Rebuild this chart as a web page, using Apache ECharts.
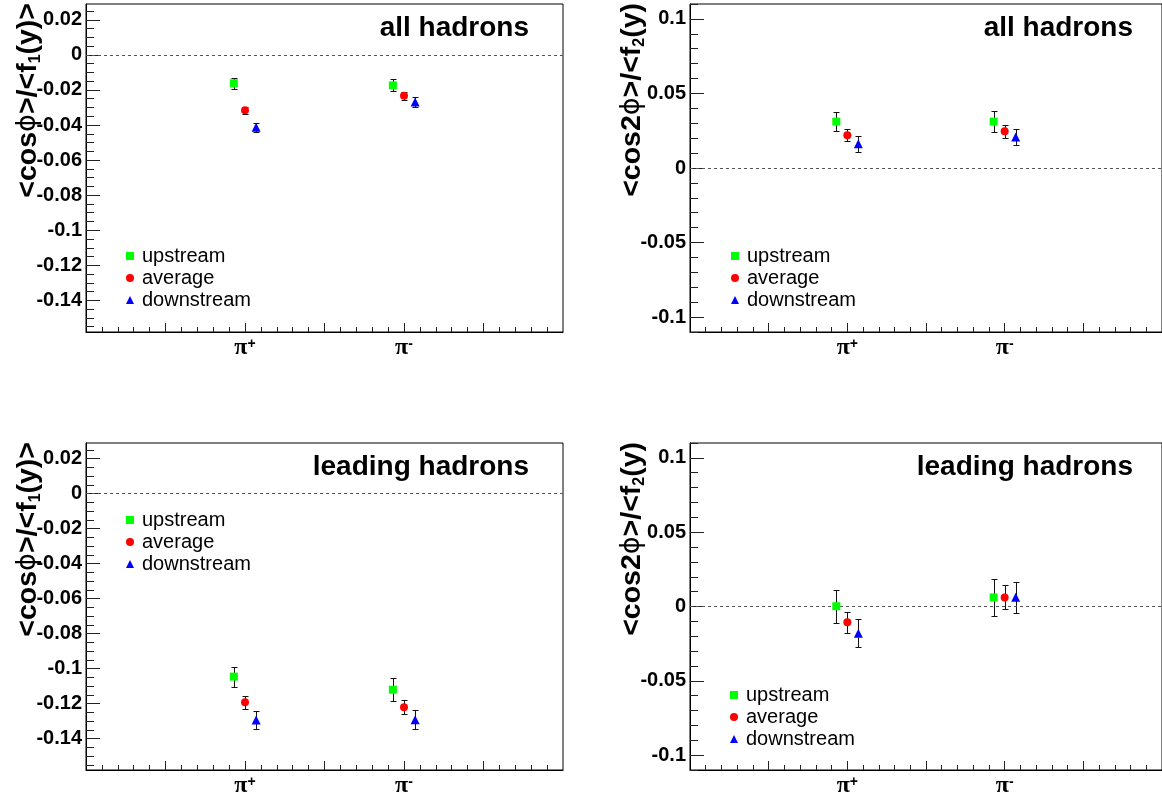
<!DOCTYPE html>
<html>
<head>
<meta charset="utf-8">
<title>cos phi and cos 2phi asymmetries</title>
<script src="https://cdn.jsdelivr.net/npm/echarts@6/dist/echarts.min.js"></script>
<style>
  html, body { margin: 0; padding: 0; background: #fff; }
  #chart { width: 1162px; height: 798px; }
</style>
</head>
<body>
<div id="chart"></div>
<script>
// Hadron charges shown along each x axis (positions 2 and 4 on a 0..6 scale)
const mesonLabels = ['π+', 'π-'];
const mesonPositions = [2, 4];
const seriesNames = ['upstream', 'average', 'downstream'];
const panelTitles = ['all hadrons', 'all hadrons', 'leading hadrons', 'leading hadrons'];

// Tick labels
const yTicksCosPhi = [0.02, 0, -0.02, -0.04, -0.06, -0.08, -0.1, -0.12, -0.14];
const yTicksCos2Phi = [0.1, 0.05, 0, -0.05, -0.1];

// <cos phi>/<f1(y)>, all hadrons: rows = upstream, average, downstream; cols = pi+, pi-
const cosPhiAll = [[-0.0162, -0.0174], [-0.0316, -0.0233], [-0.0412, -0.0269]];
const cosPhiAllErr = [[0.0032, 0.0034], [0.0019, 0.0023], [0.0025, 0.0028]];

// <cos 2phi>/<f2(y)>, all hadrons
const cos2PhiAll = [[0.0311, 0.0311], [0.0220, 0.0247], [0.0162, 0.0208]];
const cos2PhiAllErr = [[0.0066, 0.0071], [0.0040, 0.0044], [0.0052, 0.0055]];

// <cos phi>/<f1(y)>, leading hadrons
const cosPhiLead = [[-0.1046, -0.1121], [-0.1193, -0.1221], [-0.1294, -0.1293]];
const cosPhiLeadErr = [[0.0057, 0.0065], [0.0037, 0.0039], [0.0049, 0.0054]];

// <cos 2phi>/<f2(y)>, leading hadrons
const cos2PhiLead = [[0.0002, 0.0061], [-0.0106, 0.0061], [-0.0180, 0.0062]];
const cos2PhiLeadErr = [[0.0110, 0.0125], [0.0071, 0.0081], [0.0094, 0.0104]];

const FONT = '"Liberation Sans", Arial, Helvetica, sans-serif';
const markerColors = ['#00ff00', '#ff0000', '#0000ff'];
const markerShapes = ['rect', 'circle', 'triangle'];
const markerSizes = [8, 8, 9];
const xOffsets = [-0.14, 0, 0.14];

const panels = [
  { values: cosPhiAll, errors: cosPhiAllErr, ticks: yTicksCosPhi, range: [-0.158, 0.029], minorStep: 0.005, kind: 1 },
  { values: cos2PhiAll, errors: cos2PhiAllErr, ticks: yTicksCos2Phi, range: [-0.11, 0.11], minorStep: 0.01, kind: 2 },
  { values: cosPhiLead, errors: cosPhiLeadErr, ticks: yTicksCosPhi, range: [-0.158, 0.029], minorStep: 0.005, kind: 1 },
  { values: cos2PhiLead, errors: cos2PhiLeadErr, ticks: yTicksCos2Phi, range: [-0.11, 0.11], minorStep: 0.01, kind: 2 }
];

const gridBoxes = [
  { left: 86, top: 4 }, { left: 690, top: 4 },
  { left: 86, top: 443 }, { left: 690, top: 443 }
];
const GRID_W = 477, GRID_H = 328;

function minorTicks(lo, hi, step) {
  const out = [];
  for (let k = Math.ceil(lo / step - 1e-6); k * step <= hi + 1e-9; k++) out.push(+(k * step).toFixed(4));
  return out;
}
const xMajor = [1, 2, 3, 4, 5];
const xMinor = minorTicks(0.2, 5.8, 0.2);

function fmtNum(v) { const r = +(+v).toFixed(3); return r === 0 ? '0' : String(r); }

function renderErrorBar(params, api) {
  const x = api.value(0);
  const top = api.coord([x, api.value(2)]);
  const bot = api.coord([x, api.value(1)]);
  const cx = Math.round(top[0]) + 0.5;
  const yt = Math.round(top[1]) + 0.5, yb = Math.round(bot[1]) + 0.5;
  const w = 3;
  const st = { stroke: '#111', lineWidth: 1 };
  return {
    type: 'group',
    children: [
      { type: 'line', shape: { x1: cx, y1: yt, x2: cx, y2: yb }, style: st },
      { type: 'line', shape: { x1: cx - w, y1: yt, x2: cx + w, y2: yt }, style: st },
      { type: 'line', shape: { x1: cx - w, y1: yb, x2: cx + w, y2: yb }, style: st }
    ]
  };
}

const grid = [], xAxis = [], yAxis = [], series = [], legend = [], graphic = [];

panels.forEach((p, i) => {
  const g = gridBoxes[i];
  grid.push({ left: g.left, top: g.top, width: GRID_W, height: GRID_H, show: true,
    borderColor: '#000', borderWidth: 1, backgroundColor: 'transparent' });

  // main x axis: major ticks and pion labels
  xAxis.push({
    type: 'value', gridIndex: i, min: 0, max: 6, position: 'bottom',
    axisLine: { show: true, onZero: false, lineStyle: { color: '#000', width: 1 } },
    axisTick: { show: true, inside: true, length: 9, customValues: xMajor, lineStyle: { color: '#222' } },
    axisLabel: {
      show: true, margin: 5, customValues: mesonPositions,
      formatter: v => { const s = mesonLabels[mesonPositions.indexOf(Math.round(v))] || ''; return '{p|' + s[0] + '}{s|' + s.slice(1) + '}'; },
      rich: {
        p: { fontFamily: '"Liberation Serif", serif', fontWeight: 'bold', fontSize: 24, color: '#000', lineHeight: 22 },
        s: { fontFamily: FONT, fontWeight: 'bold', fontSize: 14, color: '#000', verticalAlign: 'top', lineHeight: 14 }
      }
    },
    splitLine: { show: false }
  });
  // minor x ticks
  xAxis.push({
    type: 'value', gridIndex: i, min: 0, max: 6, position: 'bottom',
    axisLine: { show: false, onZero: false }, axisLabel: { show: false }, splitLine: { show: false },
    axisTick: { show: true, inside: true, length: 5, customValues: xMinor, lineStyle: { color: '#222' } }
  });

  yAxis.push({
    type: 'value', gridIndex: i, min: p.range[0], max: p.range[1], position: 'left',
    axisLine: { show: true, onZero: false, lineStyle: { color: '#000', width: 1 } },
    axisTick: { show: true, inside: true, length: 14, customValues: p.ticks, lineStyle: { color: '#222' } },
    axisLabel: { show: true, margin: 4, customValues: p.ticks, formatter: fmtNum,
      fontFamily: FONT, fontWeight: 'bold', fontSize: 20, color: '#000' },
    splitLine: { show: false }
  });
  yAxis.push({
    type: 'value', gridIndex: i, min: p.range[0], max: p.range[1], position: 'left',
    axisLine: { show: false, onZero: false }, axisLabel: { show: false }, splitLine: { show: false },
    axisTick: { show: true, inside: true, length: 8,
      customValues: minorTicks(p.range[0], p.range[1], p.minorStep), lineStyle: { color: '#222' } }
  });

  const xi = 2 * i, yi = 2 * i;
  const bars = [];
  seriesNames.forEach((name, s) => {
    const pts = mesonPositions.map((xp, c) => {
      bars.push([xp + xOffsets[s], p.values[s][c] - p.errors[s][c], p.values[s][c] + p.errors[s][c]]);
      return [xp + xOffsets[s], p.values[s][c]];
    });
    series.push({
      type: 'scatter', name, xAxisIndex: xi, yAxisIndex: yi, data: pts,
      symbol: markerShapes[s], symbolSize: markerSizes[s],
      itemStyle: { color: markerColors[s], opacity: 1 }, z: 5, silent: true
    });
  });
  series.push({
    type: 'custom', name: 'error bars ' + i, xAxisIndex: xi, yAxisIndex: yi,
    data: bars, renderItem: renderErrorBar, encode: { x: 0, y: [1, 2] }, z: 3, silent: true,
    markLine: {
      silent: true, symbol: ['none', 'none'], label: { show: false },
      lineStyle: { type: [3, 3], color: '#555', width: 1 },
      data: [{ yAxis: 0 }], animation: false
    }
  });

  const legendPos = [
    { left: 126, top: 245 }, { left: 731, top: 245 },
    { left: 126, top: 509 }, { left: 730, top: 684 }
  ][i];
  legend.push({
    left: legendPos.left, top: legendPos.top, orient: 'vertical', selectedMode: false,
    itemWidth: 8, itemHeight: 8, itemGap: 0, padding: 0,
    textStyle: { fontFamily: FONT, fontSize: 20, lineHeight: 22, color: '#000', padding: [0, 0, 0, 3] },
    data: seriesNames.map((n, s) => ({ name: n, icon: markerShapes[s] }))
  });

  // panel heading
  graphic.push({
    type: 'text', x: g.left + 443, y: g.top + 24, z: 10,
    style: { text: panelTitles[i], align: 'right', verticalAlign: 'middle',
      fontFamily: FONT, fontWeight: 'bold', fontSize: 28, fill: '#000' }
  });

  // y-axis title
  const titleText = p.kind === 1
    ? '{a|<cos}{p|ϕ}{a|>/<f}{s|1}{a|(y)>}'
    : '{a|<cos2}{p|ϕ}{a|>/<f}{s|2}{a|(y)}';
  graphic.push({
    type: 'text', x: g.left - 58, y: g.top - 1, rotation: Math.PI / 2, z: 10,
    style: {
      text: titleText, align: 'right', verticalAlign: 'middle',
      rich: {
        a: { fontFamily: FONT, fontWeight: 'bold', fontSize: 28.5, fill: '#000', lineHeight: 32 },
        p: { fontFamily: '"DejaVu Sans", sans-serif', fontWeight: 'normal', fontSize: 27, fill: '#000', lineHeight: 32 },
        s: { fontFamily: FONT, fontWeight: 'bold', fontSize: 16, fill: '#000', lineHeight: 18, verticalAlign: 'bottom' }
      }
    }
  });
});

const chart = echarts.init(document.getElementById('chart'), null, { renderer: 'canvas' });
chart.setOption({
  animation: false,
  backgroundColor: '#fff',
  grid, xAxis, yAxis, series, legend, graphic
});
</script>
</body>
</html>
